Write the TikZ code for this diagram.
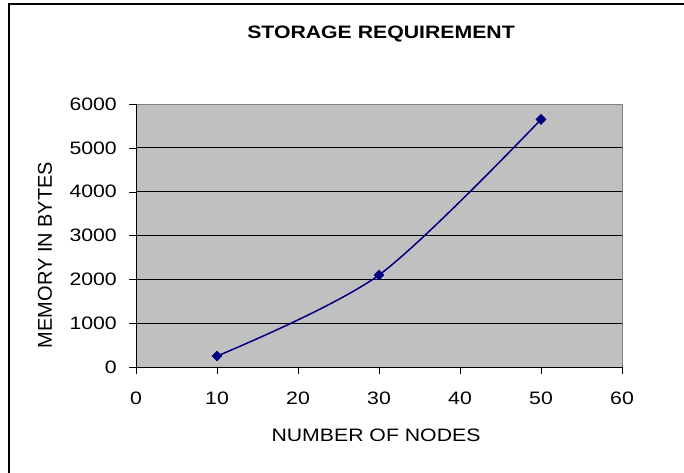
\documentclass[tikz,border=0pt]{standalone}
\usepackage{fontspec}
\setmainfont{Liberation Sans}
\usetikzlibrary{shapes.geometric,positioning}
\definecolor{plotgray}{RGB}{192,192,192}
\definecolor{edgegray}{RGB}{128,128,128}
\definecolor{seriesblue}{RGB}{0,0,128}
\newcommand{\wide}[1]{\scalebox{1.18}[1]{#1}}
\tikzstyle{lab} = [font=\fontsize{18}{21}\selectfont, inner sep=0pt]
\tikzstyle{gridline} = [black, line width=0.8pt]
\tikzstyle{series} = [seriesblue, line width=1.5pt]
\tikzstyle{marker} = [diamond, fill=seriesblue, inner sep=0pt, minimum size=11pt]

\begin{document}
\begin{tikzpicture}[x=1pt, y=-1pt]
\useasboundingbox (0,0) rectangle (684,472);
% Chart frame
\draw[line width=2pt] (9,480) -- (9,4) -- (690,4);
% Title
\node[lab, font=\fontsize{18}{21}\selectfont\bfseries] (title) at (381,33.5) {\wide{STORAGE REQUIREMENT}};

\begin{scope}[shift={(136,367)}, x=8.1pt, y=0.04383pt]
% Plot area
\fill[plotgray] (0,0) rectangle (60,6000);
\draw[edgegray, line width=1pt] (0,6000) -- (60,6000) -- (60,0);
\foreach \v in {1000,2000,...,5000}
  \draw[gridline] (0,\v) -- (60,\v);
% Axes and ticks
\draw[line width=1pt] (0,6000) -- (0,0) -- (60,0);
\foreach \v in {0,1000,...,6000} {
  \draw (0,\v) -- ++(-7pt,0);
  \node[lab, anchor=east] (y\v) at (0,\v) [xshift=-19pt] {\wide{\v}};
}
\foreach \x in {0,10,...,60} {
  \draw (\x,0) -- ++(0,-7pt);
  \node[lab] (x\x) at (\x,0) [yshift=-31.5pt] {\wide{\x}};
}
% Data
\coordinate (p1) at (10,250);
\coordinate (p2) at (30,2100);
\coordinate (p3) at (50,5650);
\draw[series] plot[smooth] coordinates {(p1) (p2) (p3)};
\foreach \p in {p1,p2,p3}
  \node[marker] (m-\p) at (\p) {};
\end{scope}

% Axis titles
\node[lab] (xtitle) at (376,435) {\wide{NUMBER OF NODES}};
\node[lab, rotate=90, font=\fontsize{20}{23}\selectfont] (ytitle) at (45,255) {MEMORY IN BYTES};
\end{tikzpicture}
\end{document}
